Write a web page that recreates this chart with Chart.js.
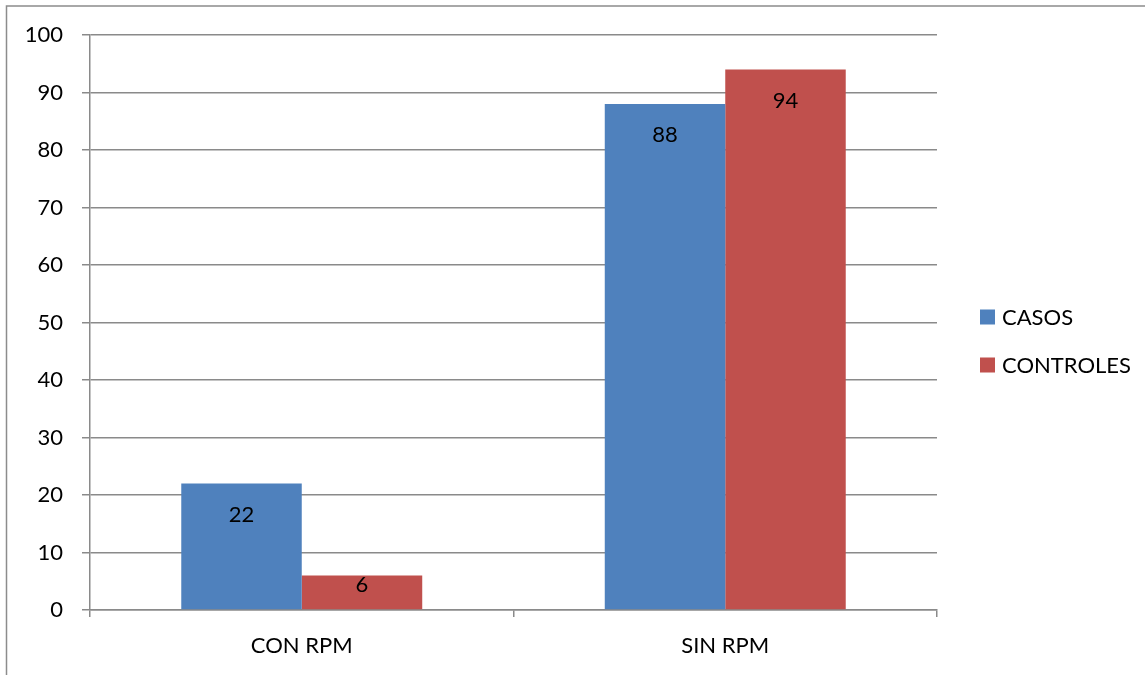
<!DOCTYPE html>
<html>
<head>
<meta charset="utf-8">
<style>
  html, body { margin: 0; padding: 0; background: #ffffff; }
  #wrap { width: 1145px; height: 675px; position: relative; }
</style>
<script src="https://cdn.jsdelivr.net/npm/chart.js@4/dist/chart.umd.min.js"></script>
</head>
<body>
<div id="wrap"><canvas id="chart" width="1145" height="675"></canvas></div>
<script>
// Categories and series
const categories = ['CON RPM', 'SIN RPM'];
const casos = [22, 88];
const controles = [6, 94];
const seriesNames = ['CASOS', 'CONTROLES'];
const seriesColors = ['#4F81BD', '#C0504D'];
const yTicks = [0, 10, 20, 30, 40, 50, 60, 70, 80, 90, 100];

const FONT = 'Lato, "Liberation Sans", Arial, sans-serif';
const FONT_SIZE = 22;
const GRID = '#8a8a8a';

// Frame around the whole drawing (top and left edges visible)
const framePlugin = {
  id: 'frame',
  beforeDraw(chart) {
    const ctx = chart.ctx;
    ctx.save();
    ctx.fillStyle = '#ffffff';
    ctx.fillRect(0, 0, chart.width, chart.height);
    ctx.strokeStyle = '#8c8c8c';
    ctx.lineWidth = 1.5;
    ctx.strokeRect(6.5, 6, chart.width + 20, chart.height + 20);
    ctx.restore();
  }
};

// Value labels placed inside the top end of each bar
const valueLabels = {
  id: 'valueLabels',
  afterDatasetsDraw(chart) {
    const ctx = chart.ctx;
    ctx.save();
    ctx.font = FONT_SIZE + 'px ' + FONT;
    ctx.fillStyle = '#000000';
    ctx.textAlign = 'center';
    ctx.textBaseline = 'middle';
    chart.data.datasets.forEach((ds, i) => {
      const meta = chart.getDatasetMeta(i);
      meta.data.forEach((bar, j) => {
        const h = bar.base - bar.y;
        const off = Math.min(30, h / 2 - 8);
        ctx.fillText(String(ds.data[j]), bar.x, bar.y + off + 1);
      });
    });
    ctx.restore();
  }
};

// Legend at the right, drawn from the datasets
const sideLegend = {
  id: 'sideLegend',
  afterDraw(chart) {
    const ctx = chart.ctx;
    ctx.save();
    ctx.font = FONT_SIZE + 'px ' + FONT;
    ctx.textBaseline = 'middle';
    ctx.textAlign = 'left';
    const x = 980, y0 = 317, step = 48, box = 15;
    chart.data.datasets.forEach((ds, i) => {
      const y = y0 + i * step;
      ctx.fillStyle = ds.backgroundColor;
      ctx.fillRect(x, y - box / 2, box, box);
      ctx.fillStyle = '#000000';
      ctx.fillText(ds.label, x + 22, y + 1);
    });
    ctx.restore();
  }
};

new Chart(document.getElementById('chart'), {
  type: 'bar',
  data: {
    labels: categories,
    datasets: [
      { label: seriesNames[0], data: casos, backgroundColor: seriesColors[0] },
      { label: seriesNames[1], data: controles, backgroundColor: seriesColors[1] }
    ]
  },
  options: {
    responsive: false,
    animation: false,
    devicePixelRatio: 1,
    layout: { padding: { left: 0, top: 35, right: 208, bottom: 0 } },
    datasets: {
      bar: { barPercentage: 1.0, categoryPercentage: 0.569, borderWidth: 0 }
    },
    plugins: {
      legend: { display: false },
      tooltip: { enabled: false },
      title: { display: false }
    },
    scales: {
      x: {
        offset: true,
        grid: {
          offset: true,
          drawOnChartArea: false,
          drawTicks: true,
          tickLength: 7,
          color: GRID,
          lineWidth: 1.5
        },
        border: { display: true, color: GRID, width: 1.5 },
        ticks: {
          color: '#000000',
          font: { family: FONT, size: FONT_SIZE },
          padding: 16
        },
        afterFit(scale) { scale.height = 65; }
      },
      y: {
        min: 0,
        max: 100,
        afterBuildTicks(scale) { scale.ticks = yTicks.map(v => ({ value: v })); },
        grid: {
          drawOnChartArea: true,
          drawTicks: true,
          tickLength: 8,
          color: GRID,
          lineWidth: 1.5
        },
        border: { display: true, color: GRID, width: 1.5 },
        ticks: {
          color: '#000000',
          font: { family: FONT, size: FONT_SIZE },
          padding: 19
        },
        afterFit(scale) { scale.width = 90; }
      }
    }
  },
  plugins: [framePlugin, valueLabels, sideLegend]
});
</script>
</body>
</html>
